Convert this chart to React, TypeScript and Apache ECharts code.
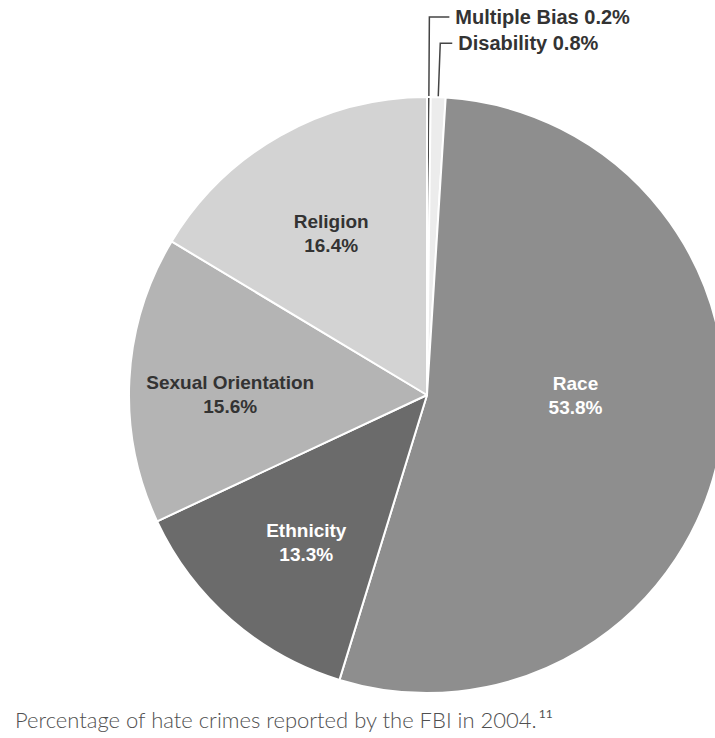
import React, { useEffect, useRef } from "react";
import * as echarts from "echarts";

const categories = ["Multiple Bias", "Disability", "Race", "Ethnicity", "Sexual Orientation", "Religion"];
const values = [0.2, 0.8, 53.8, 13.3, 15.6, 16.4];
const caption = "Percentage of hate crimes reported by the FBI in 2004.";
const footnote = "11";

const colors = ["#4a4a4a", "#ececec", "#8e8e8e", "#6b6b6b", "#b4b4b4", "#d3d3d3"];
const labelColors = ["#333", "#333", "#fff", "#fff", "#333", "#333"];
const labelShift: Record<number, [number, number]> = {
  2: [-1, -27],
  3: [-21, 33],
  4: [-45, 7],
  5: [-21, -29],
};

export default function App() {
  const ref = useRef<HTMLDivElement>(null);
  useEffect(() => {
    document.body.style.margin = "0";
    const chart = echarts.init(ref.current!, null, { renderer: "svg" });
    const data = categories.map((name, i) => {
      const outer = i < 2;
      return {
        name,
        value: values[i],
        itemStyle: { color: colors[i] },
        label: outer
          ? {
              position: "outside",
              formatter: "{b} {c}%",
              fontSize: 20,
              color: "#333",
              distanceToLabelLine: 6,
            }
          : { position: "inside", color: labelColors[i] },
        labelLine: outer
          ? { show: true, length: i === 0 ? 80 : 54, length2: i === 0 ? 20 : 12, lineStyle: { color: "#444", width: 1.5 } }
          : { show: false },
      };
    });
    chart.setOption({
      animation: false,
      backgroundColor: "#fff",
      series: [
        {
          type: "pie",
          center: [427, 395],
          radius: [0, 298],
          startAngle: 90,
          clockwise: true,
          avoidLabelOverlap: false,
          itemStyle: { borderColor: "#fff", borderWidth: 2 },
          label: {
            formatter: "{b}\n{c}%",
            fontFamily: "Liberation Sans",
            fontWeight: "bold",
            fontSize: 19,
            lineHeight: 24,
            overflow: "none",
          },
          labelLayout: (p: any) => {
            const s = labelShift[p.dataIndex];
            return s ? { dx: s[0], dy: s[1] } : {};
          },
          emphasis: { disabled: true },
          data,
        },
      ],
      graphic: [
        {
          type: "text",
          left: 15,
          top: 707,
          style: {
            text: `{a|${caption}}{s|${footnote}}`,
            rich: {
              a: { fontFamily: "Lato", fontSize: 22, fill: "#505050", fontWeight: 300 },
              s: { fontFamily: "Lato", fontSize: 12, fill: "#505050", padding: [0, 0, 12, 1] },
            },
          },
        },
      ],
    });
    return () => chart.dispose();
  }, []);
  return <div ref={ref} style={{ width: 715, height: 738, position: "absolute", left: 0, top: 0 }} />;
}
